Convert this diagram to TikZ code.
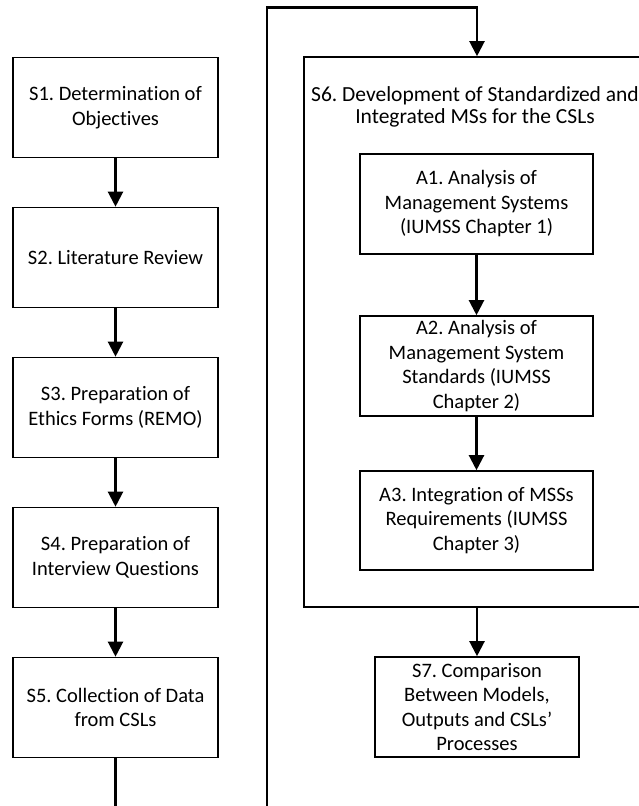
\documentclass[tikz,border=0pt]{standalone}
\usepackage{fontspec}
\setmainfont{Carlito}[Ligatures={NoCommon}]
\usetikzlibrary{arrows.meta}
\begin{document}
\frenchspacing
\begin{tikzpicture}[x=1pt,y=-1pt,
  stepbox/.style={draw,line width=1.6pt,rectangle,align=center,inner sep=0pt,
    font=\fontsize{20.5}{24.5}\selectfont},
  flow/.style={line width=2.2pt,-{Triangle[width=15pt,length=15pt]}}]
\path[use as bounding box,clip] (0,0) rectangle (639,806);
% left column: S1 to S5
\node[stepbox,minimum width=205,minimum height=100] (s1) at (115.5,107.5) {S1. Determination of\\Objectives};
\node[stepbox,minimum width=205,minimum height=100] (s2) at (115.5,257.5) {S2. Literature Review};
\node[stepbox,minimum width=205,minimum height=100] (s3) at (115.5,407.5) {S3. Preparation of\\Ethics Forms (REMO)};
\node[stepbox,minimum width=205,minimum height=100] (s4) at (115.5,557.5) {S4. Preparation of\\Interview Questions};
\node[stepbox,minimum width=205,minimum height=100] (s5) at (115.5,707.5) {S5. Collection of Data\\from CSLs};
% S6 container with its activities
\node[stepbox,minimum width=346,minimum height=550,
  label={[anchor=north,font=\fontsize{21.5}{22}\selectfont,align=center,yshift=-27,xshift=-2]north:S6. Development of Standardized and\\Integrated MSs for the CSLs}] (s6) at (477,332) {};
\node[stepbox,minimum width=233,minimum height=100] (a1) at (476.5,204) {A1. Analysis of\\Management Systems\\(IUMSS Chapter 1)};
\node[stepbox,minimum width=233,minimum height=100] (a2) at (476.5,366) {A2. Analysis of\\Management System\\Standards (IUMSS\\Chapter 2)};
\node[stepbox,minimum width=233,minimum height=99] (a3) at (476.5,520.5) {A3. Integration of MSSs\\Requirements (IUMSS\\Chapter 3)};
\node[stepbox,minimum width=204,minimum height=100] (s7) at (477,707) {S7. Comparison\\Between Models,\\Outputs and CSLs’\\Processes};
% connectors
\draw[flow] (s1) -- (s2);
\draw[flow] (s2) -- (s3);
\draw[flow] (s3) -- (s4);
\draw[flow] (s4) -- (s5);
\draw[flow] (a1) -- (a2);
\draw[flow] (a2) -- (a3);
\draw[flow] (s6) -- (s7);
% feedback loop from S5 round to the top of S6 (its lower run lies below the page)
\coordinate (loopbase) at ([yshift=-73pt]s5.south);
\coordinate (looptop) at (267,7.5);
\draw[flow] (s5.south) -- (loopbase) -| (looptop) -| (s6.north);
\end{tikzpicture}
\end{document}
